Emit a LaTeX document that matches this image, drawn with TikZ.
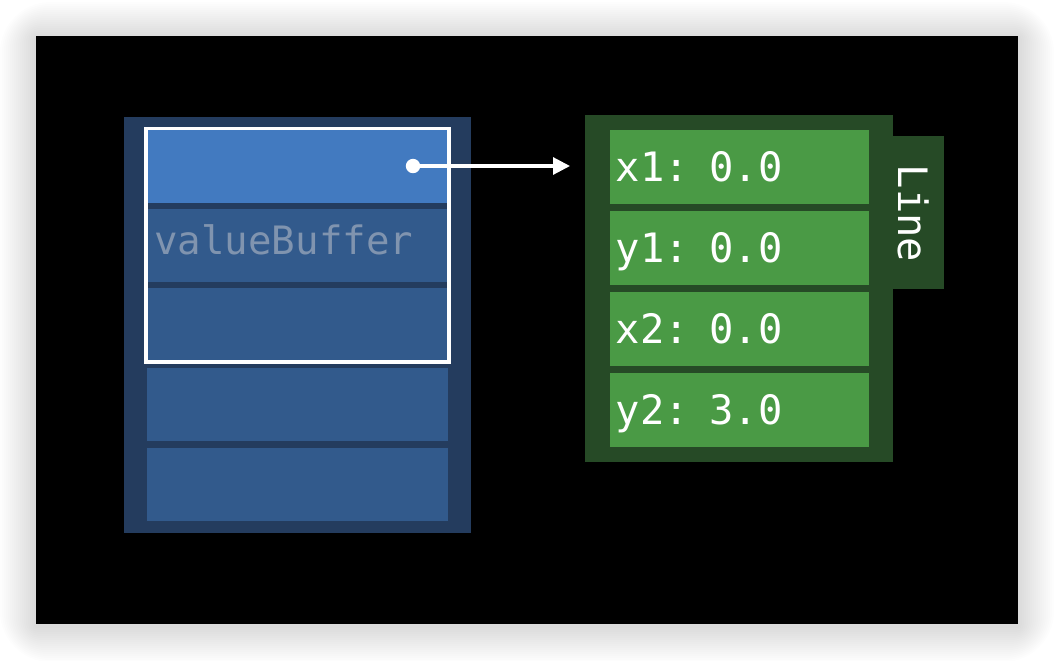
\documentclass[tikz,border=0pt]{standalone}
\usepackage{fontspec}
\usetikzlibrary{arrows.meta, positioning, fit}
\newfontfamily\codefont{DejaVu Sans Mono}
\definecolor{bufferdark}{RGB}{36, 60, 94}
\definecolor{bufferblue}{RGB}{50, 90, 140}
\definecolor{bufferlight}{RGB}{66, 122, 192}
\definecolor{bufferlabel}{RGB}{128, 148, 175}
\definecolor{linedark}{RGB}{38, 74, 38}
\definecolor{linegreen}{RGB}{74, 154, 69}

\begin{document}
\begin{tikzpicture}[x=0.025cm, y=-0.025cm,
        slot/.style={rectangle, fill=bufferblue, inner sep=0, minimum width=7.525cm, minimum height=1.825cm},
        field/.style={rectangle, fill=linegreen, minimum width=6.475cm, minimum height=1.85cm, text width=6.175cm,
            inner xsep=0.15cm, inner ysep=0, align=left, text=white, text height=21pt, text depth=0pt,
            font=\codefont\fontsize{28.8}{32}\selectfont}
    ]
        \useasboundingbox (0, 0) rectangle (1054, 660);
        \foreach \s in {1,...,18}
            \fill[black, opacity=0.007, rounded corners=2*\s] (36-2*\s, 38-2*\s) rectangle (1018+2*\s, 626+2*\s);
        \fill[black] (36, 36) rectangle (1018, 624);

        \node[rectangle, fill=bufferdark, minimum width=8.675cm, minimum height=10.4cm] (buffer) at (297.5, 325) {};
        \node[slot, fill=bufferlight] (buf1) at (297.5, 166) {};
        \node[slot] (buf2) at (297.5, 245.5) {};
        \node[slot] (buf3) at (297.5, 324.5) {};
        \node[slot] (buf4) at (297.5, 404.5) {};
        \node[slot] (buf5) at (297.5, 484.5) {};
        \node[draw=white, line width=2.8pt, inner sep=0.5pt, fit=(buf1)(buf3)] (window) {};

        \node[anchor=base west, inner sep=0, text=bufferlabel, font=\codefont\fontsize{27.8}{31}\selectfont] (bufname) at (154, 254) {valueBuffer};

        \node[rectangle, fill=linedark, minimum width=7.7cm, minimum height=8.675cm] (line) at (739, 288.5) {};
        \node[rectangle, fill=linedark, minimum width=1.275cm, minimum height=3.825cm] (tab) at (918.5, 212.5) {};
        \node[rotate=-90, inner sep=0, text=white, font=\codefont\fontsize{28.8}{32}\selectfont] (linename) at (913.5, 213.5) {Line};

        \node[field] (x1) at (739.5, 167) {x1: 0.0};
        \node[field] (y1) at (739.5, 248) {y1: 0.0};
        \node[field] (x2) at (739.5, 329) {x2: 0.0};
        \node[field] (y2) at (739.5, 410) {y2: 3.0};

        \node[circle, fill=white, inner sep=0, minimum size=0.36cm] (ptr) at (413, 166) {};
        \coordinate (target) at (570, 166);
        \draw[-{Triangle[length=12pt, width=12pt]}, white, line width=2.2pt] (ptr.center) -- (target);
    \end{tikzpicture}
\end{document}
